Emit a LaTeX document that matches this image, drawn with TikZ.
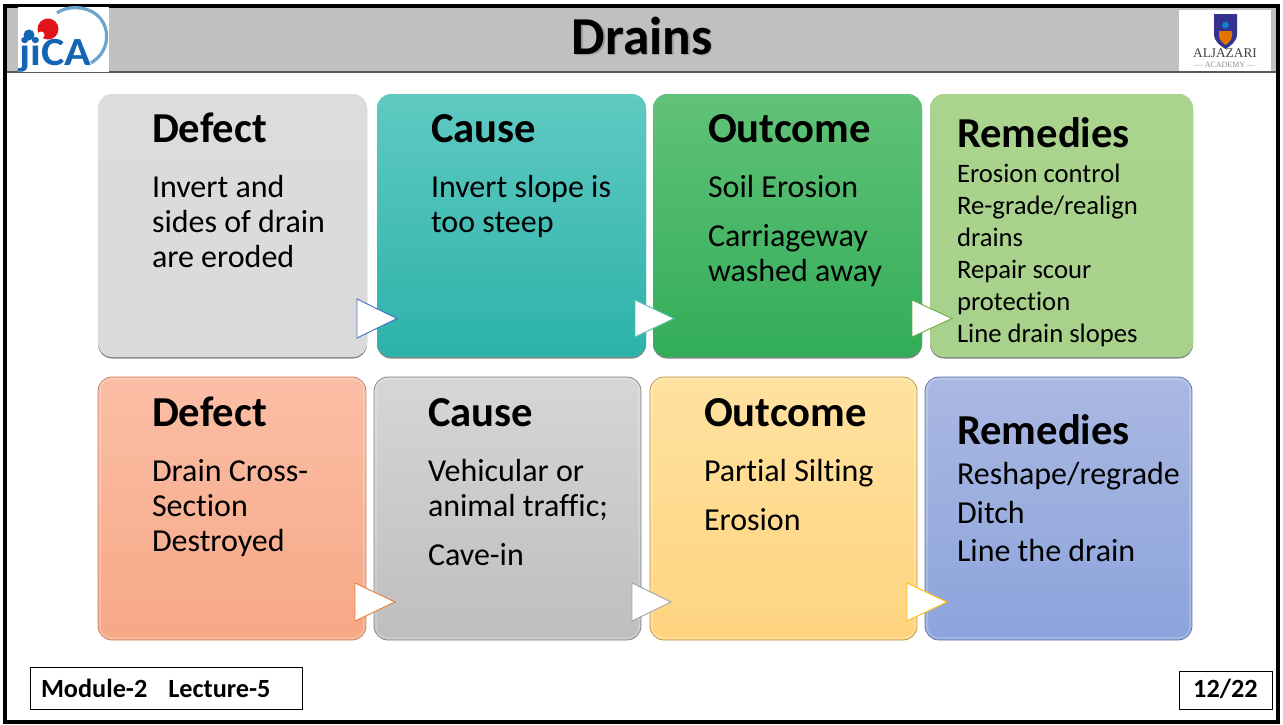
\documentclass[tikz,border=0pt]{standalone}
\usepackage{fontspec}
\setmainfont[Ligatures=NoCommon]{Carlito}
\newfontfamily\logoserif{Liberation Serif}
\definecolor{hdr}{RGB}{192,192,192}
\definecolor{jblue}{RGB}{20,100,180}
\definecolor{jarc}{RGB}{110,165,205}
\definecolor{jred}{RGB}{225,20,25}
\definecolor{c1t}{RGB}{220,220,220}\definecolor{c1b}{RGB}{218,218,218}
\definecolor{c2t}{RGB}{95,202,194}\definecolor{c2b}{RGB}{44,178,170}
\definecolor{c3t}{RGB}{97,194,120}\definecolor{c3b}{RGB}{50,173,88}
\definecolor{c4t}{RGB}{170,211,142}\definecolor{c4b}{RGB}{168,209,140}
\definecolor{c5t}{RGB}{251,190,166}\definecolor{c5b}{RGB}{246,168,134}
\definecolor{c6t}{RGB}{214,214,214}\definecolor{c6b}{RGB}{190,190,190}
\definecolor{c7t}{RGB}{255,226,160}\definecolor{c7b}{RGB}{255,212,128}
\definecolor{c8t}{RGB}{170,184,226}\definecolor{c8b}{RGB}{140,164,220}
\definecolor{e5}{RGB}{200,130,100}\definecolor{e6}{RGB}{135,135,135}
\definecolor{e7}{RGB}{190,150,70}\definecolor{e8}{RGB}{100,120,170}
\definecolor{t1}{RGB}{68,114,196}\definecolor{t2}{RGB}{90,190,170}
\definecolor{t3}{RGB}{112,173,71}\definecolor{t4}{RGB}{237,125,49}
\definecolor{t5}{RGB}{165,165,165}\definecolor{t6}{RGB}{255,192,0}
\newcommand{\hfont}{\fontsize{32}{38}\bfseries\selectfont}
\newcommand{\bfont}{\fontsize{24}{29}\selectfont}
\newcommand{\sfont}{\fontsize{20}{24}\selectfont}
\newcommand{\mfont}{\fontsize{24}{29}\selectfont}
\newcommand{\ffont}{\fontsize{19.7}{23}\bfseries\selectfont}
\tikzset{
 x=0.75pt,y=-0.75pt,
 lbl/.style={anchor=base west,inner sep=0pt,outer sep=0pt,text=black},
 card/.style={rounded corners=10.5pt},
 shadowc/.style={fill=black!48,rounded corners=10.5pt},
 tri/.style={fill=white,line width=0.7pt,line join=miter},
 foot/.style={draw=black,line width=0.6pt,fill=white},
}
\newcommand{\cardbox}[6]{%
 \fill[shadowc] (#1,#2+1.5) rectangle (#3,#4+1.5);
 \shade[card,top color=#5,bottom color=#6] (#1,#2) rectangle (#3,#4);
}
\newcommand{\glassbox}[7]{%
 \shade[card,top color=#5,bottom color=#6] (#1,#2) rectangle (#3,#4);
 \draw[card,draw=#7,line width=0.6pt] (#1,#2) rectangle (#3,#4);
 \draw[rounded corners=8pt,draw=white,opacity=0.2,line width=1.5pt] (#1+2,#2+2) rectangle (#3-2,#4-2);
}
\begin{document}
\begin{tikzpicture}
\useasboundingbox (0,0) rectangle (1283,725);
\fill[white] (0,0) rectangle (1283,725);
% header
\fill[hdr] (6,6) rectangle (1277,72);
\draw[black!65,line width=1.1pt] (6,72) -- (1277,72);
\draw[black,line width=2.6pt] (5,6) rectangle (1278,722);
% JICA logo
\fill[white] (18,7) rectangle (109,72);
\draw[jarc,line width=2.4pt] (57,13) .. controls (66,6) and (85,5) .. (97,15) .. controls (108,24) and (110,42) .. (101,54) .. controls (98,58) and (94,61) .. (91,63);
\fill[jred] (48,29) circle (10.5);
\fill[jblue] (29,35) circle (5.5);
\fill[white] (41,35) circle (3.5);
\node[lbl,text=jblue,xscale=1.1] (jicaword) at (19,65) {\fontsize{30}{33}\bfseries\selectfont jiCA};
% Aljazari logo
\fill[white] (1179,10) rectangle (1271,71);
\fill[blue!45!black!80] (1214,14) -- (1237,14) -- (1237,34) .. controls (1237,42) and (1230,46) .. (1225.5,49) .. controls (1221,46) and (1214,42) .. (1214,34) -- cycle;
\fill[orange!90!black] (1219,31) -- (1232,31) -- (1232,36) .. controls (1232,40) and (1228,43) .. (1225.5,45) .. controls (1223,43) and (1219,40) .. (1219,36) -- cycle;
\fill[cyan!60!blue] (1225.5,25) circle (3.5);
\node[anchor=base,inner sep=0pt,text=black!75] (aljword) at (1225,57) {\logoserif\fontsize{10}{12}\selectfont ALJAZARI};
\node[anchor=base,inner sep=0pt,text=black!45] (acword) at (1225,67) {\logoserif\fontsize{6}{6}\selectfont — ACADEMY —};
% title
\node[anchor=base,inner sep=0pt,text=black!40] (titleshadow) at (643.5,55.5) {\fontsize{40}{46}\bfseries\selectfont Drains};
\node[anchor=base,inner sep=0pt,text=black] (title) at (642,54) {\fontsize{40}{46}\bfseries\selectfont Drains};
% cards
\cardbox{98}{94}{367}{357}{c1t}{c1b}
\cardbox{377}{94}{646}{357}{c2t}{c2b}
\cardbox{653}{94}{922}{357}{c3t}{c3b}
\cardbox{930}{94}{1193}{357}{c4t}{c4b}
\glassbox{98}{377}{366}{640}{c5t}{c5b}{e5}
\glassbox{374}{377}{641}{640}{c6t}{c6b}{e6}
\glassbox{650}{377}{917}{640}{c7t}{c7b}{e7}
\glassbox{925}{377}{1192}{640}{c8t}{c8b}{e8}
% triangles
\draw[tri,draw=t1] (357,299) -- (397,318.5) -- (357,338) -- cycle;
\draw[tri,draw=t2] (635,300) -- (674,318.5) -- (635,337) -- cycle;
\draw[tri,draw=t3] (912,300) -- (952,318.5) -- (912,337) -- cycle;
\draw[tri,draw=t4] (355,583) -- (395,602) -- (355,621) -- cycle;
\draw[tri,draw=t5] (632,583) -- (671,602) -- (632,621) -- cycle;
\draw[tri,draw=t6] (907,583) -- (947,602) -- (907,621) -- cycle;
% top row text
\node[lbl] (a1h) at (152,142) {\hfont Defect};
\node[lbl] (a1a) at (152,197) {\bfont Invert and};
\node[lbl] (a1b) at (152,232) {\bfont sides of drain};
\node[lbl] (a1c) at (152,267) {\bfont are eroded};
\node[lbl] (a2h) at (431,142) {\hfont Cause};
\node[lbl] (a2a) at (431,197) {\bfont Invert slope is};
\node[lbl] (a2b) at (431,232) {\bfont too steep};
\node[lbl] (a3h) at (708,142) {\hfont Outcome};
\node[lbl] (a3a) at (708,197) {\bfont Soil Erosion};
\node[lbl] (a3b) at (708,246) {\bfont Carriageway};
\node[lbl] (a3c) at (708,281) {\bfont washed away};
\node[lbl] (a4h) at (957,147) {\hfont Remedies};
\node[lbl] (a4a) at (957,182) {\sfont Erosion control};
\node[lbl] (a4b) at (957,214) {\sfont Re-grade/realign};
\node[lbl] (a4c) at (957,246) {\sfont drains};
\node[lbl] (a4d) at (957,278) {\sfont Repair scour};
\node[lbl] (a4e) at (957,310) {\sfont protection};
\node[lbl] (a4f) at (957,342) {\sfont Line drain slopes};
% bottom row text
\node[lbl] (b1h) at (152,426) {\hfont Defect};
\node[lbl] (b1a) at (152,481) {\bfont Drain Cross-};
\node[lbl] (b1b) at (152,516) {\bfont Section};
\node[lbl] (b1c) at (152,551) {\bfont Destroyed};
\node[lbl] (b2h) at (428,426) {\hfont Cause};
\node[lbl] (b2a) at (428,481) {\bfont Vehicular or};
\node[lbl] (b2b) at (428,516) {\bfont animal traffic;};
\node[lbl] (b2c) at (428,565) {\bfont Cave-in};
\node[lbl] (b3h) at (704,426) {\hfont Outcome};
\node[lbl] (b3a) at (704,481) {\bfont Partial Silting};
\node[lbl] (b3b) at (704,530) {\bfont Erosion};
\node[lbl] (b4h) at (957,444) {\hfont Remedies};
\node[lbl] (b4a) at (957,484) {\mfont Reshape/regrade};
\node[lbl] (b4b) at (957,523) {\mfont Ditch};
\node[lbl] (b4c) at (957,561) {\mfont Line the drain};
% footer
\draw[foot] (30,667) rectangle (302,709);
\node[lbl] (modl) at (41,697) {\ffont Module-2\hspace{0.8em}Lecture-5};
\draw[foot] (1179,671) rectangle (1272,709);
\node[anchor=base,inner sep=0pt] (pagen) at (1225.5,697) {\ffont 12/22};
\end{tikzpicture}
\end{document}
